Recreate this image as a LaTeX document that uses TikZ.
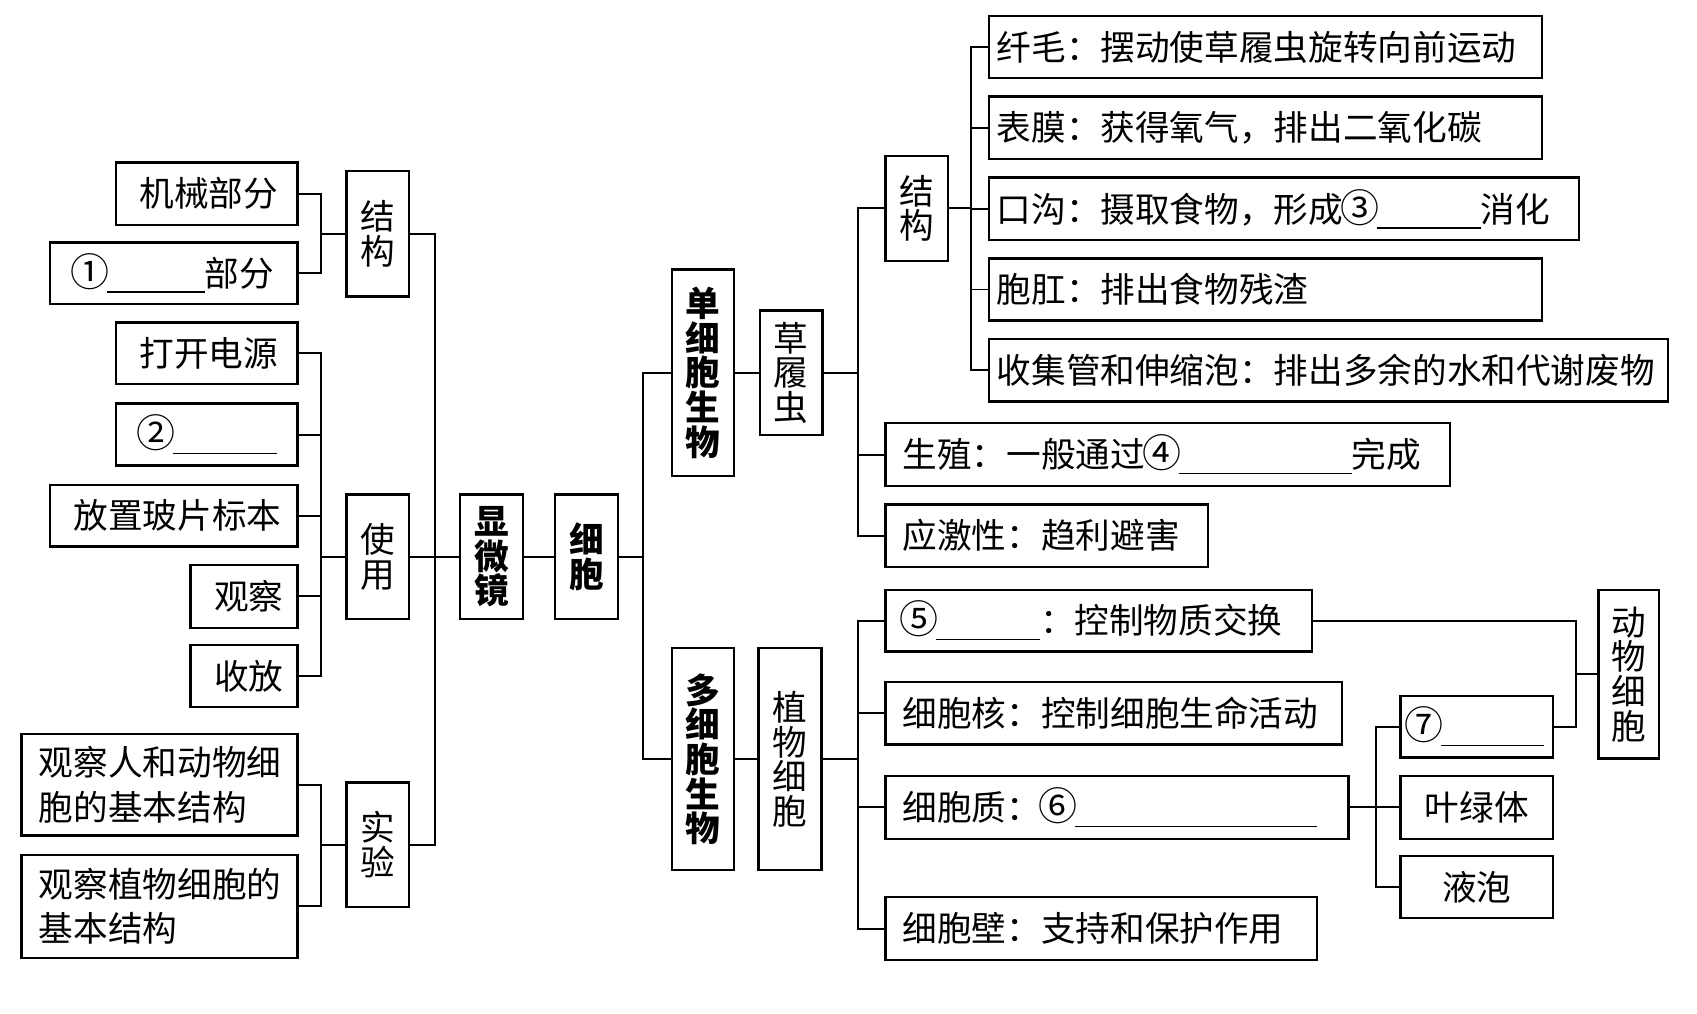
\documentclass[tikz,border=0pt]{standalone}
\usepackage{fontspec}
\setmainfont{Noto Sans CJK SC}
\newcommand\blank[1]{\rule[-3pt]{#1}{0.7pt}}
\newcommand\cn[1]{\makebox[15.5pt][c]{\fontsize{18}{18}\selectfont #1}}
\newcommand\mybox[8]{%
  \pgfmathsetmacro\mbW{(#4-#2)*0.5}%
  \pgfmathsetmacro\mbH{(#5-#3)*0.5}%
  \pgfmathsetmacro\mbT{\mbW-2*#7}%
  \node[box, minimum width=\mbW pt, minimum height=\mbH pt, text width=\mbT pt, inner xsep=#7pt, align=#6] (#1) at (#2,#3) {#8};}
\tikzset{
  box/.style={draw, line width=1.1pt, anchor=north west, inner ysep=0pt, outer sep=0pt, font=\fontsize{16}{20.5}\selectfont},
  vt/.style={font=\fontsize{16}{16}\selectfont},
  vtb/.style={font=\fontsize{16}{16}\selectfont\bfseries},
  conn/.style={line width=0.9pt}
}
\begin{document}
\begin{tikzpicture}[x=0.5pt,y=-0.5pt]
\useasboundingbox (0,0) rectangle (1568,936);
% left column
\mybox{jx}{107}{150}{275}{208}{right}{11}{机械部分}
\mybox{q1}{46}{224}{275}{281}{right}{11}{\cn{①}\blank{45pt}部分}
\mybox{jgL}{320}{158}{378}{274}{center,vt}{3}{结\\构}
\mybox{dk}{107}{298}{275}{355}{right}{11}{打开电源}
\mybox{q2}{107}{373}{275}{430}{right}{11}{\cn{②}\blank{48pt}}
\mybox{fz}{46}{448}{275}{505}{right}{11}{放置玻片标本}
\mybox{gc}{176}{522}{275}{580}{right}{11}{观察}
\mybox{sf}{176}{596}{275}{653}{right}{11}{收放}
\mybox{sy}{320}{457}{378}{572}{center,vt}{3}{使\\用}
\mybox{sy1}{20}{678}{275}{772}{left}{8}{观察人和动物细\\胞的基本结构}
\mybox{sy2}{20}{790}{275}{885}{left}{8}{观察植物细胞的\\基本结构}
\mybox{sj}{320}{723}{378}{838}{center,vt}{3}{实\\验}
% center
\mybox{xwj}{425}{457}{483}{572}{center,vtb}{3}{显\\微\\镜}
\mybox{xb}{513}{457}{571}{572}{center,vtb}{3}{细\\胞}
\mybox{dxb}{621}{249}{678}{440}{center,vtb}{3}{单\\细\\胞\\生\\物}
\mybox{mxb}{621}{599}{678}{804}{center,vtb}{3}{多\\细\\胞\\生\\物}
\mybox{clc}{702}{287}{760}{402}{center,vt}{3}{草\\履\\虫}
\mybox{zwxb}{701}{599}{759}{804}{center,vt}{3}{植\\物\\细\\胞}
% right upper
\mybox{jgR}{818}{144}{876}{241}{center,vt}{3}{结\\构}
\mybox{r1}{914}{15}{1425}{72}{left}{3.5}{纤毛：摆动使草履虫旋转向前运动}
\mybox{r2}{914}{89}{1425}{147}{left}{3.5}{表膜：获得氧气，排出二氧化碳}
\mybox{r3}{914}{164}{1459}{222}{left}{3.5}{口沟：摄取食物，形成\cn{③}\blank{48pt}消化}
\mybox{r4}{914}{239}{1425}{296}{left}{3.5}{胞肛：排出食物残渣}
\mybox{r5}{914}{313}{1541}{371}{left}{3.5}{收集管和伸缩泡：排出多余的水和代谢废物}
\mybox{sz}{818}{391}{1340}{449}{left}{8}{生殖：一般通过\cn{④}\blank{80pt}完成}
\mybox{yj}{818}{466}{1116}{524}{left}{8}{应激性：趋利避害}
% right lower
\mybox{p1}{818}{545}{1212}{602}{left}{8}{\cn{⑤}\blank{48pt}：控制物质交换}
\mybox{p2}{818}{630}{1240}{688}{left}{8}{细胞核：控制细胞生命活动}
\mybox{p3}{818}{717}{1246}{775}{left}{8}{细胞质：\cn{⑥}\blank{112pt}}
\mybox{p4}{818}{829}{1217}{887}{left}{8}{细胞壁：支持和保护作用}
\mybox{q7}{1294}{643}{1435}{700}{left}{3}{\cn{⑦}\blank{48pt}}
\mybox{ylt}{1294}{717}{1435}{775}{center}{3}{叶绿体}
\mybox{yp}{1294}{791}{1435}{848}{center}{3}{液泡}
\mybox{dw}{1477}{545}{1533}{701}{center,vt}{3}{动\\物\\细\\胞}
% spines
\coordinate (s1) at (297,216);
\coordinate (s2) at (297,514.5);
\coordinate (s3) at (297,780.5);
\coordinate (s4) at (402,514.5);
\coordinate (s5) at (594,514.5);
\coordinate (s6) at (793,344.5);
\coordinate (s7) at (897,192.5);
\coordinate (s8) at (793,701.5);
\coordinate (s9) at (1271,746);
\coordinate (s10) at (1456,623);
% connectors
\draw[conn] (jx.east) -| (s1); \draw[conn] (q1.east) -| (s1); \draw[conn] (s1) -- (jgL.west);
\foreach \n in {dk,q2,fz,gc,sf} \draw[conn] (\n.east) -| (s2);
\draw[conn] (s2) -- (sy.west);
\draw[conn] (sy1.east) -| (s3); \draw[conn] (sy2.east) -| (s3); \draw[conn] (s3) -- (sj.west);
\foreach \n in {jgL,sy,sj} \draw[conn] (\n.east) -| (s4);
\draw[conn] (s4) -- (xwj.west);
\draw[conn] (xwj.east) -- (xb.west);
\draw[conn] (xb.east) -- (s5);
\draw[conn] (s5) |- (dxb.west); \draw[conn] (s5) |- (mxb.west);
\draw[conn] (dxb.east) -- (clc.west);
\draw[conn] (mxb.east) -- (zwxb.west);
\draw[conn] (clc.east) -- (s6);
\foreach \n in {jgR,sz,yj} \draw[conn] (s6) |- (\n.west);
\draw[conn] (jgR.east) -- (s7);
\foreach \n in {r1,r2,r3,r4,r5} \draw[conn] (s7) |- (\n.west);
\draw[conn] (zwxb.east) -- (s8);
\foreach \n in {p1,p2,p3,p4} \draw[conn] (s8) |- (\n.west);
\draw[conn] (p3.east) -- (s9);
\foreach \n in {q7,ylt,yp} \draw[conn] (s9) |- (\n.west);
\draw[conn] (p1.east) -| (s10); \draw[conn] (q7.east) -| (s10);
\draw[conn] (s10) -- (dw.west);
\end{tikzpicture}
\end{document}
